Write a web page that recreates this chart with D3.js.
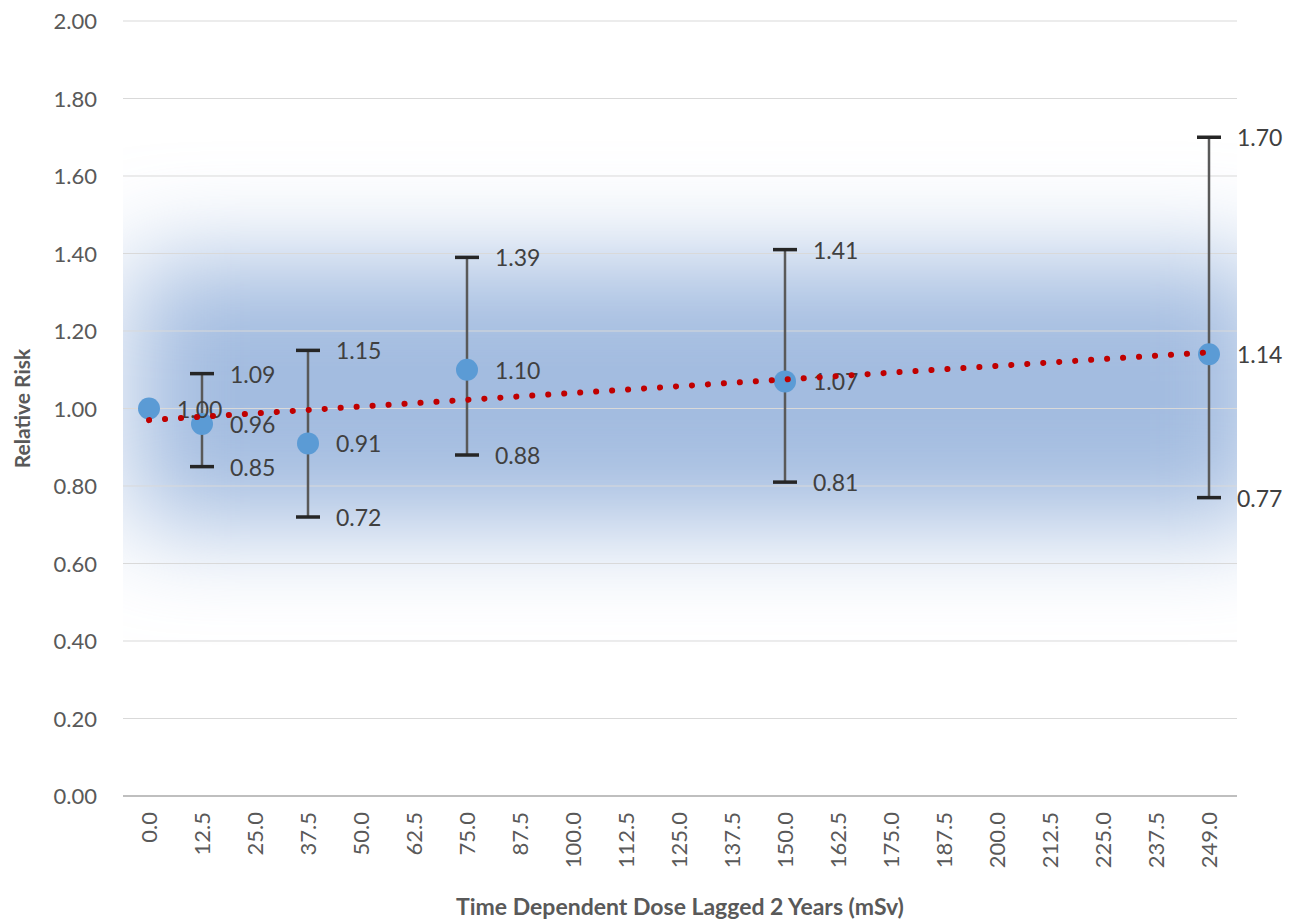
<!DOCTYPE html>
<html><head><meta charset="utf-8">
<script src="https://cdn.jsdelivr.net/npm/d3@7"></script>
<style>body{margin:0;background:#fff;font-family:Lato,"Open Sans",sans-serif}</style>
</head><body>
<script>
const categories = ['0.0','12.5','25.0','37.5','50.0','62.5','75.0','87.5','100.0','112.5','125.0','137.5','150.0','162.5','175.0','187.5','200.0','212.5','225.0','237.5','249.0'];
const pointCats = ['0.0','12.5','37.5','75.0','150.0','249.0'];
const rr = [1.00, 0.96, 0.91, 1.10, 1.07, 1.14];
const lower = [null, 0.85, 0.72, 0.88, 0.81, 0.77];
const upper = [null, 1.09, 1.15, 1.39, 1.41, 1.70];
const yTicks = [0,0.2,0.4,0.6,0.8,1.0,1.2,1.4,1.6,1.8,2.0];
const trend = [0.97, 1.145]; // start/end of linear trend

const W = 1300, H = 923;
const svg = d3.select('body').append('svg').attr('width', W).attr('height', H);
const x = d3.scalePoint().domain(categories).range([149, 1209]);
const y = d3.scaleLinear().domain([0, 2]).range([796, 21]);

// background glow
const defs = svg.append('defs');
defs.append('filter').attr('id', 'blur').attr('x', '-20%').attr('y', '-60%').attr('width', '140%').attr('height', '220%')
  .append('feGaussianBlur').attr('stdDeviation', 50);
svg.append('rect').attr('x', 130).attr('y', y(1.38)).attr('width', 1140).attr('height', y(0.70) - y(1.38))
  .attr('fill', '#a3bce0').attr('filter', 'url(#blur)');
svg.append('rect').attr('x', 0).attr('y', 0).attr('width', 123).attr('height', H).attr('fill', '#fff');
svg.append('rect').attr('x', 1237).attr('y', 0).attr('width', 63).attr('height', H).attr('fill', '#fff');

// grid
svg.append('g').selectAll('line').data(yTicks.slice(1)).join('line')
  .attr('x1', 123).attr('x2', 1237).attr('y1', d => y(d)).attr('y2', d => y(d))
  .attr('stroke', '#d9d9d9').attr('stroke-width', 1);
svg.append('line').attr('x1', 123).attr('x2', 1237).attr('y1', y(0)).attr('y2', y(0))
  .attr('stroke', '#bfbfbf').attr('stroke-width', 2);

// y labels
svg.append('g').selectAll('text').data(yTicks).join('text')
  .attr('x', 97).attr('y', d => y(d) + 8).attr('text-anchor', 'end')
  .attr('font-size', 22).attr('fill', '#595959').text(d => d.toFixed(2));
// x labels
svg.append('g').selectAll('text').data(categories).join('text')
  .attr('transform', d => `translate(${x(d) + 8},812) rotate(-90)`).attr('text-anchor', 'end')
  .attr('font-size', 22).attr('fill', '#595959').text(d => d);

svg.append('text').attr('x', 680).attr('y', 915).attr('text-anchor', 'middle')
  .attr('font-size', 23).attr('font-weight', 'bold').attr('fill', '#595959')
  .text('Time Dependent Dose Lagged 2 Years (mSv)');
svg.append('text').attr('transform', `translate(30,${y(1)}) rotate(-90)`).attr('text-anchor', 'middle')
  .attr('font-size', 21).attr('font-weight', 'bold').attr('fill', '#595959').text('Relative Risk');

// error bars
const pts = pointCats.map((c, i) => ({c, v: rr[i], lo: lower[i], hi: upper[i]}));
const eb = svg.append('g');
pts.filter(d => d.lo !== null).forEach(d => {
  const cx = x(d.c);
  eb.append('line').attr('x1', cx).attr('x2', cx).attr('y1', y(d.hi)).attr('y2', y(d.lo)).attr('stroke', '#595959').attr('stroke-width', 2.5);
  [d.hi, d.lo].forEach(v => {
    eb.append('line').attr('x1', cx - 12).attr('x2', cx + 12).attr('y1', y(v)).attr('y2', y(v)).attr('stroke', '#262626').attr('stroke-width', 3.5);
    eb.append('text').attr('x', cx + 28).attr('y', y(v) + 9).attr('font-size', 23).attr('fill', '#404040').text(v.toFixed(2));
  });
});

// points
svg.append('g').selectAll('circle').data(pts).join('circle')
  .attr('cx', d => x(d.c)).attr('cy', d => y(d.v)).attr('r', 11).attr('fill', '#5b9bd5');
svg.append('g').selectAll('text').data(pts).join('text')
  .attr('x', d => x(d.c) + 28).attr('y', d => y(d.v) + 9).attr('font-size', 23).attr('fill', '#404040')
  .text(d => d.v.toFixed(2));

// trend line
svg.append('line').attr('x1', x('0.0')).attr('x2', x('249.0')).attr('y1', y(trend[0])).attr('y2', y(trend[1]))
  .attr('stroke', '#c00000').attr('stroke-width', 6).attr('stroke-linecap', 'round').attr('stroke-dasharray', '0.1 15.9');
</script>
</body></html>
